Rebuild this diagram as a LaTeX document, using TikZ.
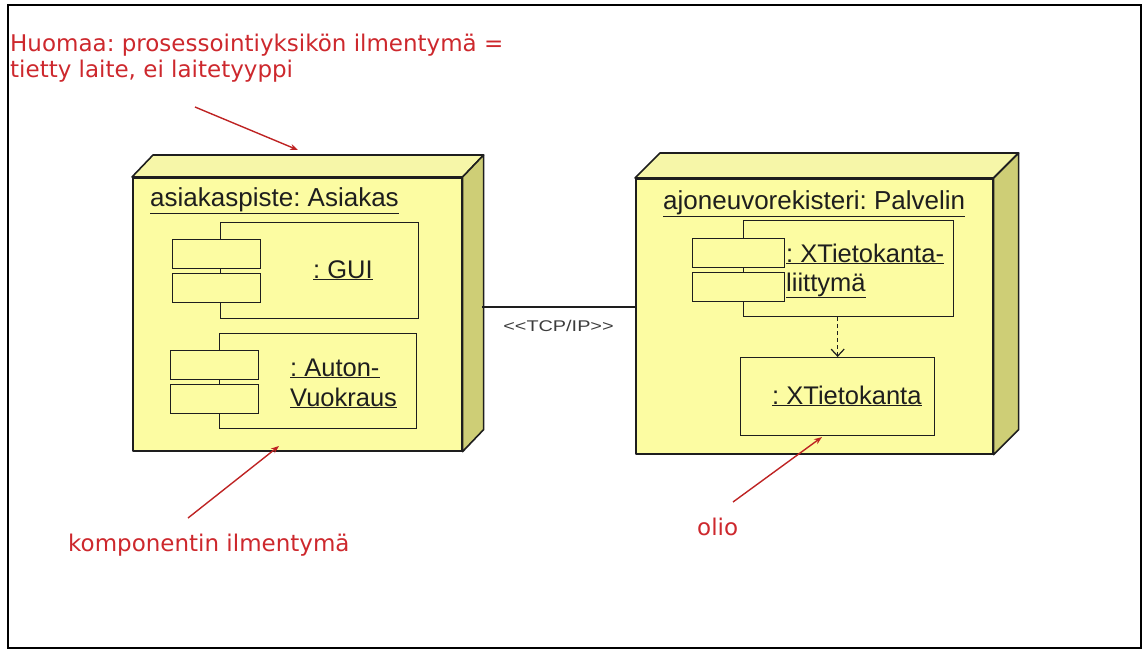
\documentclass[tikz,border=0pt]{standalone}
\usepackage{fontspec}
\setmainfont{Liberation Sans}
\newfontfamily\notefont{DejaVu Sans}
\usetikzlibrary{arrows.meta}
\frenchspacing

\definecolor{frontyellow}{RGB}{252,252,162}
\definecolor{topyellow}{RGB}{246,246,168}
\definecolor{sideolive}{RGB}{206,206,118}
\definecolor{edgegray}{RGB}{30,30,30}
\definecolor{notered}{RGB}{205,40,45}
\definecolor{arrowred}{RGB}{190,35,35}
\definecolor{labelgray}{RGB}{60,60,60}

\tikzset{
  face/.style={draw=edgegray, line width=1.6pt, fill=frontyellow, inner sep=0pt,
               anchor=north west, line join=round},
  topface/.style={draw=edgegray, line width=1.6pt, fill=topyellow, line join=round},
  sideface/.style={draw=edgegray, line width=1.6pt, fill=sideolive, line join=round},
  compbox/.style={draw=edgegray, line width=1.3pt, fill=frontyellow, inner sep=0pt,
                  anchor=north west},
  portbox/.style={compbox, minimum width=88pt, minimum height=29pt},
  uml/.style={font=\fontsize{25.5}{29}\selectfont, text=edgegray, inner sep=0pt, anchor=base west},
  umltitle/.style={uml, font=\fontsize{26}{30}\selectfont},
  note/.style={font=\notefont\fontsize{23}{26}\selectfont, text=notered, inner sep=0pt},
  notearrow/.style={draw=arrowred, line width=1.4pt, -{Stealth[length=8pt,width=6pt]}},
  depend/.style={draw=edgegray, line width=1.2pt, dash pattern=on 4pt off 3pt,
                 -{Straight Barb[length=7pt,width=13pt]}},
  commlink/.style={draw=edgegray, line width=1.2pt}
}

\begin{document}
\begin{tikzpicture}[x=1pt, y=-1pt]
\useasboundingbox (0,0) rectangle (1147,651);
\draw[line width=1.8pt, black] (8,5) rectangle (1141,648);

% ---- client node: asiakaspiste ----
\node[face, minimum width=329pt, minimum height=273pt] (asiakas) at (132,177) {};
\draw[topface] (asiakas.north west) -- ++(21,-22) -- ([shift={(21,-22)}]asiakas.north east)
  -- (asiakas.north east) -- cycle;
\draw[sideface] (asiakas.north east) -- ++(21,-22) -- ([shift={(21,-22)}]asiakas.south east)
  -- (asiakas.south east) -- cycle;
\node[umltitle] (asiakasTitle) at (150,206) {\underline{asiakaspiste: Asiakas}};

\node[compbox, minimum width=198pt, minimum height=96pt] (gui) at (220,222) {};
\node[portbox] (guiP1) at (172,239) {};
\node[portbox] (guiP2) at (172,273) {};
\node[uml] (guiLabel) at (313,278) {\underline{: GUI}};

\node[compbox, minimum width=197pt, minimum height=95pt] (vuokraus) at (219,333) {};
\node[portbox] (vuokrausP1) at (170,350) {};
\node[portbox] (vuokrausP2) at (170,384) {};
\node[uml] (vuokrausL1) at (290,376) {\underline{: Auton-}};
\node[uml] (vuokrausL2) at (290,406) {\underline{Vuokraus}};

% ---- server node: ajoneuvorekisteri ----
\node[face, minimum width=357pt, minimum height=275pt] (palvelin) at (635,178) {};
\draw[topface] (palvelin.north west) -- ++(25,-25) -- ([shift={(25,-25)}]palvelin.north east)
  -- (palvelin.north east) -- cycle;
\draw[sideface] (palvelin.north east) -- ++(25,-25) -- ([shift={(25,-25)}]palvelin.south east)
  -- (palvelin.south east) -- cycle;
\node[umltitle] (palvelinTitle) at (663,209) {\underline{ajoneuvorekisteri: Palvelin}};

\node[compbox, minimum width=210pt, minimum height=96pt] (liittyma) at (743,220) {};
\node[portbox, minimum width=92pt] (liittymaP1) at (692,238) {};
\node[portbox, minimum width=92pt] (liittymaP2) at (692,272) {};
\node[uml] (liittymaL1) at (786,262) {\underline{: XTietokanta-}};
\node[uml] (liittymaL2) at (786,291) {\underline{liittymä}};

\node[compbox, minimum width=194pt, minimum height=78pt] (kanta) at (740,357) {};
\node[uml] (kantaLabel) at (772,404) {\underline{: XTietokanta}};

\draw[depend] (kanta.north |- liittyma.south) -- (kanta.north);

% ---- communication path ----
\coordinate (linkStart) at (482,307);
\draw[commlink] (linkStart) -- (linkStart -| palvelin.west)
  node[midway, below=13pt, inner sep=0pt, text=labelgray,
       font=\fontsize{15.5}{18}\selectfont] (tcp) {\scalebox{1.28}[1]{<{}<TCP/IP>{}>}};

% ---- annotations ----
\node[note, anchor=north west, align=left] (huomaa) at (10,34)
  {Huomaa: prosessointiyksikön ilmentymä =\\tietty laite, ei laitetyyppi};
\coordinate (huomaaFrom) at (195,107);
\coordinate (huomaaTo) at (298,150);
\draw[notearrow] (huomaaFrom) -- (huomaaTo);

\node[note, anchor=west] (komponentti) at (68,545) {komponentin ilmentymä};
\coordinate (kompFrom) at (188,518);
\coordinate (kompTo) at (279,446);
\draw[notearrow] (kompFrom) -- (kompTo);

\node[note, anchor=west] (olio) at (697,527) {olio};
\coordinate (olioFrom) at (733,502);
\coordinate (olioTo) at (822,437);
\draw[notearrow] (olioFrom) -- (olioTo);
\end{tikzpicture}
\end{document}
